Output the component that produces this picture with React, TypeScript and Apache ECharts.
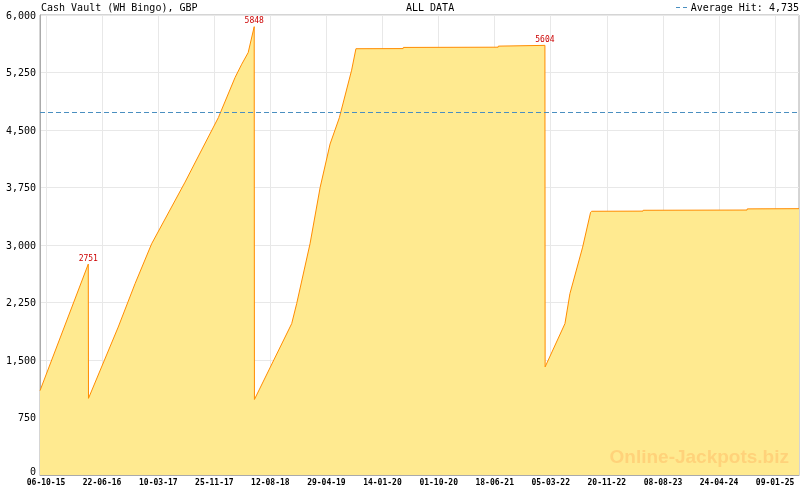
import React, { useEffect, useRef } from "react";
import * as echarts from "echarts";

const TITLE = "Cash Vault (WH Bingo), GBP";
const SUBTITLE = "ALL DATA";
const AVERAGE = 4735;
const AVERAGE_LABEL = "Average Hit: 4,735";
const WATERMARK = "Online-Jackpots.biz";

const DATES = [
  "2015-09-08", "2016-04-19", "2016-04-20", "2016-09-05", "2016-11-22",
  "2017-02-07", "2017-07-12", "2017-09-27", "2017-12-14", "2018-03-01",
  "2018-04-01", "2018-05-01", "2018-05-29", "2018-05-30", "2018-11-19", "2018-12-12",
  "2019-02-12", "2019-03-31", "2019-05-16", "2019-06-28", "2019-08-24", "2019-09-13",
  "2020-04-19", "2020-04-20", "2021-07-04", "2021-07-05", "2022-02-06", "2022-02-07",
  "2022-05-10", "2022-06-02", "2022-07-31", "2022-09-06", "2022-09-11", "2023-05-07",
  "2023-05-08", "2024-09-01", "2024-09-02", "2025-04-30",
];
const VALUES = [
  1100, 2751, 1000, 1930, 2495,
  3016, 3820, 4240, 4664, 5184,
  5358, 5510, 5848, 985, 1975, 2235,
  3016, 3752, 4317, 4660, 5280, 5560,
  5562, 5577, 5580, 5594, 5604, 1410,
  1975, 2365, 2972, 3427, 3440, 3442,
  3453, 3456, 3471, 3474,
];
const PEAK_DATES = ["2016-04-19", "2018-05-29", "2022-02-06"];
const TICK_DATES = [
  "2015-10-06", "2016-06-22", "2017-03-10", "2017-11-25", "2018-08-12", "2019-04-29",
  "2020-01-14", "2020-10-01", "2021-06-18", "2022-03-05", "2022-11-20", "2023-08-08",
  "2024-04-24", "2025-01-09",
];
const Y_MAX = 6000;
const Y_INTERVAL = 750;
const MINOR_PER_MAJOR = 6;

const ts = (s: string) =>
  Date.UTC(+s.slice(0, 4), +s.slice(5, 7) - 1, +s.slice(8, 10));
const pad = (n: number) => (n < 10 ? "0" + n : "" + n);
const fmtDate = (v: number) => {
  const d = new Date(v);
  return `${pad(d.getUTCDate())}-${pad(d.getUTCMonth() + 1)}-${pad(d.getUTCFullYear() % 100)}`;
};

const MONO = "DejaVu Sans Mono";

export default function App() {
  const ref = useRef<HTMLDivElement>(null);
  useEffect(() => {
    if (!ref.current) return;
    const chart = echarts.init(ref.current, undefined, { renderer: "svg" });
    const data = DATES.map((d, i) => [ts(d), VALUES[i]]);
    const xMin = ts(DATES[0]);
    const xMax = ts(DATES[DATES.length - 1]);
    const majors = TICK_DATES.map(ts);
    const step = (majors[majors.length - 1] - majors[0]) / (majors.length - 1);
    const minors: number[] = [];
    for (let i = 0; i < majors.length; i++) {
      for (let k = 1; k < MINOR_PER_MAJOR; k++) {
        const v = majors[i] + (k * step) / MINOR_PER_MAJOR;
        if (v <= xMax) minors.push(v);
      }
    }
    const peaks = PEAK_DATES.map((d) => {
      const i = DATES.indexOf(d);
      return { coord: [ts(d), VALUES[i]], value: VALUES[i] };
    });

    chart.setOption({
      animation: false,
      grid: {
        left: 40,
        right: 1,
        top: 15,
        bottom: 15,
        show: true,
        borderColor: "#aaaaaa",
        borderWidth: 1,
        containLabel: false,
      },
      xAxis: [
        {
          type: "value",
          min: xMin,
          max: xMax,
          axisLine: { show: true, lineStyle: { color: "#aaaaaa" } },
          axisTick: {
            show: true,
            inside: true,
            length: 6,
            customValues: majors,
            lineStyle: { color: "#aaaaaa" },
          },
          axisLabel: {
            customValues: majors,
            formatter: (v: number) => fmtDate(v),
            fontFamily: MONO,
            fontSize: 8,
            fontWeight: "bold",
            color: "#000",
            margin: 3,
          },
          splitLine: { show: true, lineStyle: { color: "#e8e8e8" } },
        },
        {
          type: "value",
          min: xMin,
          max: xMax,
          position: "bottom",
          axisLine: { show: false },
          axisTick: {
            show: true,
            inside: true,
            length: 3,
            customValues: minors,
            lineStyle: { color: "#aaaaaa" },
          },
          axisLabel: { show: false },
          splitLine: { show: false },
        },
      ],
      yAxis: {
        type: "value",
        min: 0,
        max: Y_MAX,
        interval: Y_INTERVAL,
        axisLine: { show: true, lineStyle: { color: "#aaaaaa" } },
        axisTick: { show: false },
        axisLabel: {
          formatter: (v: number) =>
            v === 0 ? "{z|0}" : v.toLocaleString("en-US"),
          fontFamily: MONO,
          fontSize: 10,
          color: "#000",
          margin: 4,
          rich: {
            z: {
              fontFamily: MONO,
              fontSize: 10,
              color: "#000",
              padding: [0, 0, 7, 0],
            },
          },
        },
        splitLine: { show: true, lineStyle: { color: "#e8e8e8" } },
      },
      series: [
        {
          type: "line",
          data,
          xAxisIndex: 0,
          showSymbol: false,
          lineStyle: { color: "#ff8c00", width: 1 },
          areaStyle: { color: "#ffea90", opacity: 1 },
          markLine: {
            silent: true,
            symbol: "none",
            label: { show: false },
            lineStyle: { color: "#4a8fc0", type: [5, 3], width: 1 },
            data: [{ yAxis: AVERAGE }],
          },
          markPoint: {
            symbol: "circle",
            symbolSize: 0,
            label: {
              show: true,
              position: "top",
              distance: 2,
              color: "#cc0000",
              fontFamily: MONO,
              fontSize: 8,
              formatter: (p: any) => String(p.value),
            },
            data: peaks,
          },
        },
      ],
      graphic: [
        {
          type: "text",
          left: 41,
          top: 2,
          style: { text: TITLE, fontFamily: MONO, fontSize: 10, fill: "#000" },
        },
        {
          type: "text",
          left: 406,
          top: 2,
          style: { text: SUBTITLE, fontFamily: MONO, fontSize: 10, fill: "#000" },
        },
        {
          type: "line",
          shape: { x1: 676, y1: 7.5, x2: 689, y2: 7.5 },
          style: { stroke: "#4a8fc0", lineWidth: 1, lineDash: [4, 3] },
        },
        {
          type: "text",
          right: 1,
          top: 2,
          style: { text: AVERAGE_LABEL, fontFamily: MONO, fontSize: 10, fill: "#000" },
        },
        {
          type: "text",
          right: 11,
          top: 447,
          z: 100,
          style: {
            text: WATERMARK,
            fontFamily: "Liberation Sans",
            fontWeight: "bold",
            fontSize: 19,
            fill: "#ffd27a",
          },
        },
      ],
    });
    return () => chart.dispose();
  }, []);
  return (
    <div
      ref={ref}
      style={{ position: "fixed", left: 0, top: 0, width: 800, height: 490 }}
    />
  );
}
